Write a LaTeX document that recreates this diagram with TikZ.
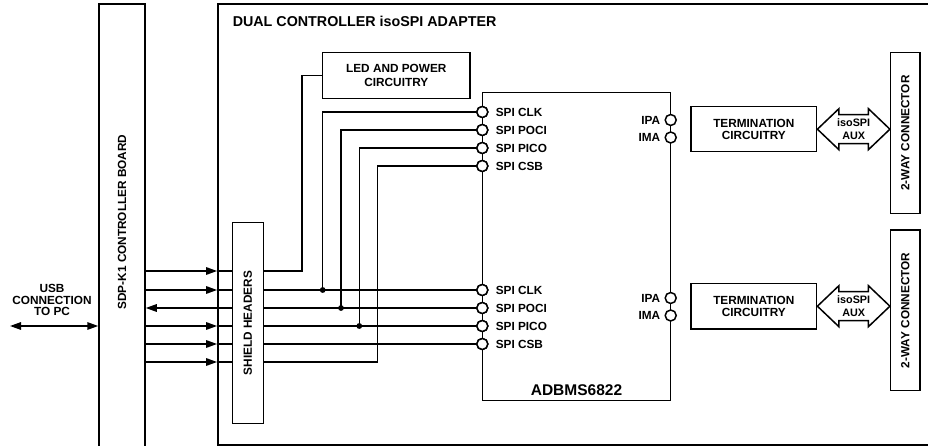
\documentclass[tikz,border=0pt]{standalone}
\usepackage{fontspec}
\setmainfont{Liberation Sans}
\usetikzlibrary{arrows.meta,calc}

% isoSPI double arrow between a termination block and its connector
\newcommand{\isoarrow}[2]{%
  \draw (#1.east) -- ++(21.5,-20.5) -- ++(0,6)
    -- ($(#2.west |- #1.east)+(-21.5,-14.5)$) -- ++(0,-6)
    -- (#2.west |- #1.east) -- ++(-21.5,20.5) -- ++(0,-6)
    -- ($(#1.east)+(21.5,14.5)$) -- ++(0,6) -- cycle;}

\begin{document}
\begin{tikzpicture}[
  x=1pt, y=-1pt,
  font=\fontsize{11.8}{12.5}\selectfont\bfseries,
  line width=1.5pt,
  box/.style={draw, inner sep=0pt, align=center},
  pin/.style={draw, circle, fill=white, minimum size=11pt, inner sep=0pt},
  lbl/.style={inner sep=0pt, align=center},
  arr/.style={-{Triangle[length=11pt,width=7.5pt]}},
  dot/.style={circle, fill, inner sep=0pt, minimum size=5.8pt},
]
\useasboundingbox (0,0) rectangle (928,446);
\clip (0,0) rectangle (928,446);

% ---- the two boards ----
\node[box, minimum width=46pt, minimum height=460pt] (sdp) at (122,234) {};
\node[lbl, rotate=90] (sdptxt) at (122,222) {SDP-K1 CONTROLLER BOARD};
\node[box, minimum width=740pt, minimum height=441pt, line width=1.8pt] (adp) at (588,224.5) {};
\node[lbl, anchor=base west, font=\fontsize{14.3}{15}\selectfont\bfseries] (adptxt) at (232,27) {DUAL CONTROLLER isoSPI ADAPTER};

% ---- blocks on the adapter ----
\node[box, minimum width=31pt, minimum height=201pt] (shd) at (247.8,323.2) {};
\node[lbl, rotate=90] (shdtxt) at (shd) {SHIELD HEADERS};
\node[box, minimum width=147.3pt, minimum height=46pt, font=\fontsize{11.8}{13.7}\selectfont\bfseries] (led) at (396.3,75.3) {LED AND POWER\\CIRCUITRY};
\node[box, minimum width=188.4pt, minimum height=308.4pt] (adbms) at (576.5,246.5) {};
\node[lbl, anchor=base, font=\fontsize{15.5}{16}\selectfont\bfseries] (adbmstxt) at (576.5,395) {ADBMS6822};

% SPI pins, upper (a) and lower (b) controller
\foreach \s/\dy in {a/0, b/178}
  \foreach \n/\y/\t in {clk/112/CLK, poci/130/POCI, pico/148/PICO, csb/166/CSB} {
    \node[pin] (\n\s) at (482.3,\y+\dy) {};
    \node[lbl, anchor=west] (\n\s-t) at ([xshift=6.5pt]\n\s.east) {SPI \t};
  }
% isoSPI pins, termination and connectors
\foreach \s/\y in {a/120, b/298} {
  \node[pin] (ipa\s) at (670.7,\y) {};
  \node[pin] (ima\s) at (670.7,\y+17.5) {};
  \node[lbl, anchor=east] (ipa\s-t) at ([xshift=-3.5pt]ipa\s.west) {IPA};
  \node[lbl, anchor=east] (ima\s-t) at ([xshift=-3.5pt]ima\s.west) {IMA};
}
\node[box, minimum width=125.7pt, minimum height=45pt, font=\fontsize{11.8}{11.7}\selectfont\bfseries] (terma) at (753.8,129.2) {TERMINATION\\CIRCUITRY};
\node[box, minimum width=125.7pt, minimum height=45.7pt, font=\fontsize{11.8}{11.7}\selectfont\bfseries] (termb) at (753.8,306.2) {TERMINATION\\CIRCUITRY};
\node[box, minimum width=29.3pt, minimum height=160.6pt] (conna) at (905.3,133) {};
\node[box, minimum width=29.3pt, minimum height=160.7pt] (connb) at (905.3,310.3) {};
\node[lbl, rotate=90] (conna-t) at (conna) {2-WAY CONNECTOR};
\node[lbl, rotate=90] (connb-t) at (connb) {2-WAY CONNECTOR};

\isoarrow{terma}{conna}
\isoarrow{termb}{connb}
\node[lbl, font=\fontsize{10.8}{12.3}\selectfont\bfseries] (auxa) at ($(terma.east)!0.5!(conna.west |- terma.east)$) {isoSPI\\AUX};
\node[lbl, font=\fontsize{10.8}{12.3}\selectfont\bfseries] (auxb) at ($(termb.east)!0.5!(connb.west |- termb.east)$) {isoSPI\\AUX};

% ---- USB link ----
\coordinate (usbend) at (10,326);
\draw[{Triangle[length=11pt,width=7.5pt]}-{Triangle[length=11pt,width=7.5pt]}] (usbend) -- (sdp.west |- usbend);
\node[lbl, font=\fontsize{11.8}{11.8}\selectfont\bfseries] (usb) at (52,300) {USB\\CONNECTION\\TO PC};

% ---- SDP-K1 to shield headers ----
\coordinate (ledw) at (0,271);
\coordinate (csbw) at (0,362);
\foreach \p in {ledw, clkb, picob, csbb, csbw} {
  \draw[arr] (sdp.east |- \p) -- (adp.west |- \p);
  \draw (adp.west |- \p) -- (shd.west |- \p);
}
\draw[arr] (shd.west |- pocib) -- (sdp.east |- pocib);

% ---- shield headers to LED block and the two controllers ----
\draw (led.west) -- ++(-20,0) |- (shd.east |- ledw);
\foreach \n in {clk, poci, pico, csb}
  \draw (shd.east |- \n b) -- (\n b.west);
\draw (clka.west) -| (322.7,290) node[dot] (j1) {};
\draw (pocia.west) -| (341,308) node[dot] (j2) {};
\draw (picoa.west) -| (359.3,326) node[dot] (j3) {};
\draw (csba.west) -| (377.7,362) -- (shd.east |- csbw);
% redraw pins over the wires
\foreach \s/\dy in {a/0, b/178}
  \foreach \n/\y in {clk/112, poci/130, pico/148, csb/166}
    \node[pin] at (482.3,\y+\dy) {};
\end{tikzpicture}
\end{document}
